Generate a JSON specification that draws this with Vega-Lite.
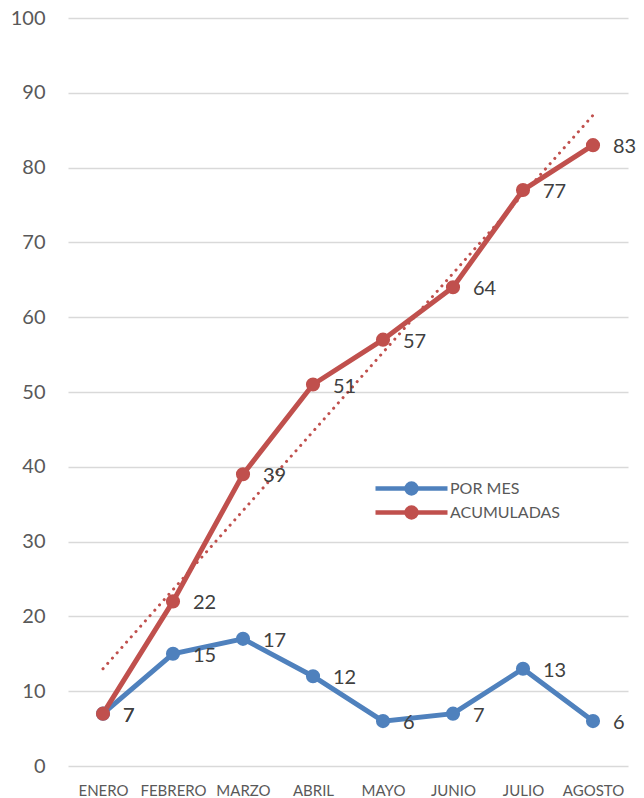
{
  "$schema": "https://vega.github.io/schema/vega-lite/v6.json",
  "width": 560,
  "height": 748,
  "autosize": {"type": "none"},
  "padding": {"left": 68, "top": 18, "right": 16, "bottom": 32},
  "background": "white",
  "config": {
    "view": {"stroke": null},
    "font": "Lato",
    "axis": {"labelFont": "Lato", "labelColor": "#595959"}
  },
  "datasets": {
    "series": [
      {"mes": "ENERO", "serie": "POR MES", "valor": 7},
      {"mes": "FEBRERO", "serie": "POR MES", "valor": 15},
      {"mes": "MARZO", "serie": "POR MES", "valor": 17},
      {"mes": "ABRIL", "serie": "POR MES", "valor": 12},
      {"mes": "MAYO", "serie": "POR MES", "valor": 6},
      {"mes": "JUNIO", "serie": "POR MES", "valor": 7},
      {"mes": "JULIO", "serie": "POR MES", "valor": 13},
      {"mes": "AGOSTO", "serie": "POR MES", "valor": 6},
      {"mes": "ENERO", "serie": "ACUMULADAS", "valor": 7},
      {"mes": "FEBRERO", "serie": "ACUMULADAS", "valor": 22},
      {"mes": "MARZO", "serie": "ACUMULADAS", "valor": 39},
      {"mes": "ABRIL", "serie": "ACUMULADAS", "valor": 51},
      {"mes": "MAYO", "serie": "ACUMULADAS", "valor": 57},
      {"mes": "JUNIO", "serie": "ACUMULADAS", "valor": 64},
      {"mes": "JULIO", "serie": "ACUMULADAS", "valor": 77},
      {"mes": "AGOSTO", "serie": "ACUMULADAS", "valor": 83}
    ],
    "trend": [
      {"mes": "ENERO", "valor": 13},
      {"mes": "AGOSTO", "valor": 87}
    ]
  },
  "encoding": {
    "x": {
      "field": "mes",
      "type": "ordinal",
      "sort": ["ENERO", "FEBRERO", "MARZO", "ABRIL", "MAYO", "JUNIO", "JULIO", "AGOSTO"],
      "scale": {"type": "point", "padding": 0.5},
      "axis": {"title": null, "domain": false, "ticks": false, "labelAngle": 0, "labelFontSize": 15, "labelPadding": 17, "grid": false}
    },
    "y": {
      "field": "valor",
      "type": "quantitative",
      "scale": {"domain": [0, 100], "nice": false},
      "axis": {"title": null, "values": [0, 10, 20, 30, 40, 50, 60, 70, 80, 90, 100], "domain": false, "ticks": false, "labelFontSize": 20, "labelPadding": 23, "grid": true, "gridColor": "#D9D9D9", "gridWidth": 1.5}
    }
  },
  "layer": [
    {
      "data": {"name": "series"},
      "mark": {"type": "line", "strokeWidth": 5, "point": {"filled": true, "size": 200, "opacity": 1}},
      "encoding": {
        "color": {
          "field": "serie",
          "type": "nominal",
          "scale": {"domain": ["POR MES", "ACUMULADAS"], "range": ["#4F81BD", "#C0504D"]},
          "legend": {
            "title": null,
            "orient": "none",
            "legendX": 335,
            "legendY": 462,
            "symbolType": "M -6 0 L 6 0 M 0.83 0 A 0.83 0.83 0 1 1 -0.83 0 A 0.83 0.83 0 1 1 0.83 0 Z",
            "symbolSize": 144,
            "symbolStrokeWidth": 4.5,
            "labelFontSize": 16,
            "labelColor": "#595959",
            "labelOffset": 30,
            "rowPadding": -5
          }
        }
      }
    },
    {
      "data": {"name": "trend"},
      "mark": {"type": "line", "color": "#C0504D", "strokeWidth": 3, "strokeDash": [0.1, 7], "strokeCap": "round"},
      "encoding": {}
    },
    {
      "data": {"name": "series"},
      "mark": {"type": "text", "align": "left", "baseline": "middle", "dx": 20, "dy": 2, "fontSize": 20, "color": "#404040"},
      "encoding": {"text": {"field": "valor", "type": "quantitative"}}
    }
  ]
}
